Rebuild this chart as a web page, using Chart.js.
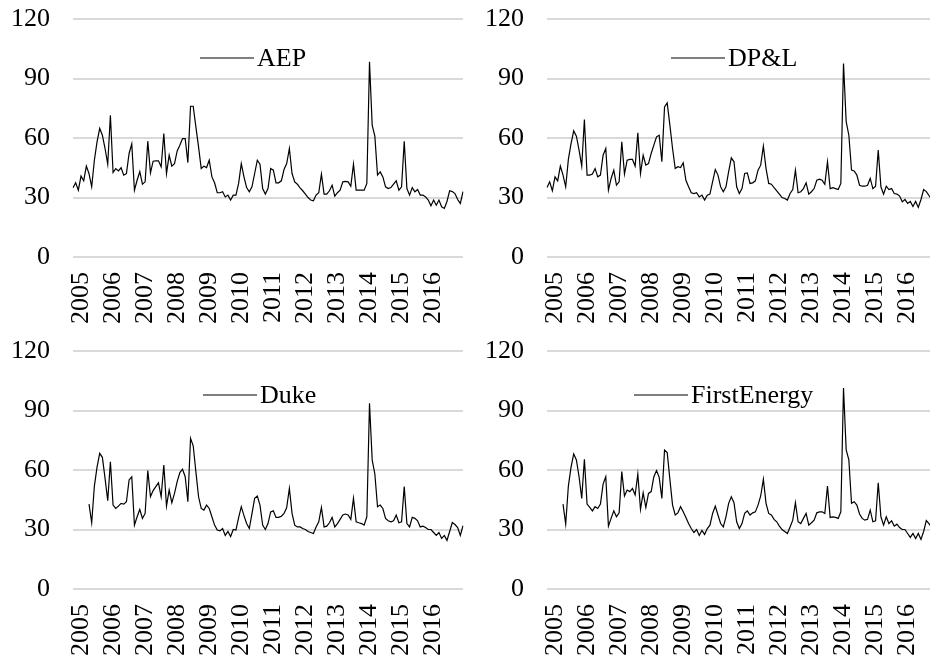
<!DOCTYPE html>
<html>
<head>
<meta charset="utf-8">
<script src="https://cdn.jsdelivr.net/npm/chart.js@4.4.1/dist/chart.umd.min.js"></script>
<style>
  body { margin: 0; width: 930px; height: 661px; overflow: hidden; background: #fff; position: relative; }
  canvas { position: absolute; }
</style>
</head>
<body>
<canvas id="aep" width="495" height="332" style="left:0;top:0"></canvas>
<canvas id="dpl" width="495" height="332" style="left:474px;top:0"></canvas>
<canvas id="duke" width="495" height="332" style="left:0;top:332px"></canvas>
<canvas id="fe" width="495" height="332" style="left:474px;top:332px"></canvas>
<script>
// monthly categories, Oct 2004 .. Dec 2016
const months = []
for (let y = 2004; y <= 2016; y++) {
  for (let m = 1; m <= 12; m++) {
    if (y === 2004 && m < 10) continue
    months.push(y + '-' + String(m).padStart(2, '0'))
  }
}
const yearLabels = ['2005', '2006', '2007', '2008', '2009', '2010', '2011', '2012', '2013', '2014', '2015', '2016']
const firstYearIndex = months.indexOf('2005-01')

const aep = [
  34.9, 37.4, 33.7, 40.8, 38.4, 45.8, 42, 35.4, 48.8, 58, 64.8, 61.4,
  54.7, 46.8, 71.5, 42.6, 44.6, 43.4, 45, 41.3, 42, 52.2, 57, 33.7,
  38.7, 43, 36.7, 37.9, 58.4, 42.4, 48.3, 48.5, 48.5, 45.5, 62.3, 42,
  51.3, 45.8, 47.1, 53.5, 56.4, 59.7, 59.7, 47.6, 76, 76, 65.6, 55.5,
  44.6, 45.8, 45.1, 48.8, 40.4, 37.4, 32.4, 32.4, 32.9, 30.3, 31.2, 28.7,
  31.2, 31.2, 37.1, 47.1, 40.4, 35, 32.9, 35.4, 42.1, 48.8, 46.8, 34.5,
  31.7, 34.5, 44.6, 43.8, 37.4, 37.4, 38.4, 44.1, 47.1, 54.7, 42.1, 37.9,
  36.7, 34.9, 33.4, 31.7, 30, 28.7, 28.3, 31.2, 32.4, 41.8, 31.7, 31.7,
  33.4, 36.2, 30.7, 32.4, 33.7, 37.9, 38.1, 37.9, 35.7, 46.8, 33.7, 33.7,
  33.7, 33.7, 37.1, 98.4, 66.5, 60.9, 41.3, 42.9, 40.4, 35.4, 34.5, 35,
  36.7, 38.4, 33.7, 35.4, 58.4, 34.5, 31.2, 35, 32.9, 34, 31.2, 31.2,
  30.3, 28.7, 25.8, 28.7, 26.1, 28.7, 25.3, 24.5, 28, 33.4, 33, 32,
  29, 27, 33
]

const dpl = [
  35, 37.9, 33.4, 40.4, 38.4, 45.8, 41.3, 35.4, 49.2, 57.2, 63.6, 60.9,
  53.9, 45.8, 69.3, 41.3, 41.3, 41.8, 44.6, 40.4, 41.3, 51.3, 54.7, 33.7,
  39.6, 43.8, 36.2, 37.9, 58.1, 41.8, 48.8, 49.2, 49.2, 45.8, 62.6, 42.1,
  51.3, 46.3, 47.1, 52.2, 56.4, 60.6, 61.4, 48, 75.7, 77.7, 66.5, 54.7,
  44.6, 45.5, 45.1, 47.5, 38.7, 35.4, 32.4, 32, 32.4, 30.3, 31.2, 28.7,
  31.2, 31.7, 38, 44.1, 41.3, 35.4, 32.9, 35.4, 43, 50, 48, 35.4,
  32, 34.5, 42.1, 42.4, 37.1, 37.4, 38.4, 43.8, 46.3, 55.9, 44.6, 37.1,
  36.7, 35, 33.4, 31.7, 30, 29.5, 28.7, 32, 34, 43.8, 32.4, 32.9,
  34.5, 37.4, 31.7, 32.9, 34.5, 38.7, 39.2, 38.7, 36.7, 48, 34.5, 35,
  34.5, 34, 37.1, 97.6, 68.2, 61.4, 43.8, 43.4, 41.3, 36.2, 35.7, 35.7,
  36.2, 39.6, 34.5, 35.7, 53.9, 35.4, 31.7, 35.7, 34, 34.5, 32, 31.7,
  30.7, 27.8, 29, 27, 28, 25.5, 28, 25, 29, 34, 33, 31,
  29, 27, 31
]

const duke = [
  null, null, null, null, null, null, 42.8, 33.4, 51.9, 61.4, 68.4, 66.4,
  55.8, 44.5, 64.2, 42.3, 40.6, 41.8, 43.2, 42.8, 44, 55, 56.6, 32.2,
  36.4, 40.1, 35.6, 38.1, 59.7, 46.5, 49.6, 51.6, 53.6, 46.5, 62.5, 41.8,
  49.9, 43.5, 48.2, 54.1, 58.7, 60.4, 56.6, 44, 76, 72.2, 59.2, 46.5,
  40.6, 39.8, 42.3, 40.6, 36.4, 32.2, 29.7, 29.3, 30.5, 27, 29, 26.5,
  30, 29.7, 36, 41.5, 37, 33, 30.5, 38, 45.7, 46.9, 42.3, 32.2,
  30, 33, 38.9, 39.4, 36.1, 36.1, 36.7, 38.1, 41.1, 50.7, 38.1, 32.2,
  31.3, 31.3, 30.5, 30, 29, 28.5, 28, 31.3, 33.9, 41.1, 31.3, 31.7,
  33.4, 36.1, 31.3, 33, 35.1, 37.3, 37.8, 37.3, 35.1, 45.7, 33.9, 33.4,
  33, 32.2, 36.4, 93.7, 65.1, 58, 41.5, 42.3, 40.6, 35.6, 34.4, 33.9,
  34.4, 37.3, 33.4, 33.9, 51.6, 33, 31.3, 36.1, 35.6, 34.4, 31.3, 31.7,
  31, 30, 30, 28.5, 27, 28.5, 25.5, 27, 24.5, 29, 33.5, 32.5,
  31, 27, 32
]

const firstEnergy = [
  null, null, null, null, null, null, 42.8, 32.7, 51.9, 61.4, 68.1, 65.1,
  56.6, 45.7, 65.4, 42.8, 41.1, 39.4, 41.5, 40.6, 42.8, 52.9, 56.6, 31.7,
  35.6, 39.4, 36.4, 38.4, 59.2, 46.9, 49.9, 49.1, 50.7, 47.4, 58, 40.1,
  48.5, 41.1, 48.2, 49.1, 56.6, 59.7, 56.3, 45.7, 70.1, 68.8, 55.3, 42.3,
  37.3, 38.4, 41.5, 38.9, 36.1, 33, 30.5, 28.5, 30, 27, 29.5, 27.5,
  30.5, 32.2, 38.1, 41.8, 37.3, 33, 31.3, 36.4, 43.2, 46.5, 43.5, 33.9,
  30.5, 33, 38.1, 39.4, 37.3, 38.4, 38.9, 42.3, 46.9, 55.3, 43.2, 38.1,
  37.3, 35.1, 33.9, 31.7, 30, 29, 28, 31.3, 34.7, 43.5, 33.9, 33,
  35.6, 38.1, 32.2, 33.4, 34.7, 38.4, 38.9, 38.9, 38.1, 51.9, 36.1, 36.4,
  36.1, 35.6, 38.9, 101.3, 70.1, 65.1, 43.2, 44, 42.3, 37.8, 35.6, 34.7,
  35.1, 39.8, 33.9, 34.4, 53.6, 36.4, 32.2, 36.4, 33, 34.4, 31.7, 32.7,
  31, 30, 30, 28, 26, 28, 25.5, 28, 25, 29, 34.5, 33,
  31, 29, 32
]

const fontFamily = '"Liberation Serif", "Times New Roman", serif'
Chart.defaults.font.family = fontFamily
Chart.defaults.font.size = 26
Chart.defaults.color = '#000'

// legend drawn inside the plot: a short line sample followed by the series name
const insideLegend = {
  id: 'insideLegend',
  afterDraw (chart, args, opts) {
    const { ctx, chartArea } = chart
    const ds = chart.data.datasets[0]
    const x = chartArea.left + opts.x
    const y = chartArea.top + opts.y
    ctx.save()
    ctx.strokeStyle = ds.borderColor
    ctx.lineWidth = ds.borderWidth
    ctx.beginPath()
    ctx.moveTo(x, y)
    ctx.lineTo(x + 54, y)
    ctx.stroke()
    ctx.fillStyle = '#000'
    ctx.font = '26px ' + fontFamily
    ctx.textBaseline = 'middle'
    ctx.fillText(ds.label, x + 57, y + 1)
    ctx.restore()
  }
}

function createPanel (id, name, values, legendX, legendY) {
  const canvas = document.getElementById(id)
  // eslint-disable-next-line no-new, no-undef
  new Chart(canvas, {
    type: 'line',
    data: {
      labels: months,
      datasets: [{
        label: name,
        data: values,
        borderColor: '#000',
        borderWidth: 1.2,
        pointRadius: 0,
        tension: 0,
        spanGaps: false
      }]
    },
    options: {
      responsive: false,
      animation: false,
      devicePixelRatio: 1,
      layout: { padding: { top: 19, right: 32, bottom: 0, left: 0 } },
      scales: {
        x: {
          offset: false,
          grid: { drawOnChartArea: false, tickLength: 15, tickColor: 'rgba(0,0,0,0)' },
          border: { display: false },
          ticks: {
            autoSkip: false,
            minRotation: 90,
            maxRotation: 90,
            padding: 0,
            callback: (value) => {
              const k = value - firstYearIndex
              return k >= 0 && k % 12 === 0 ? yearLabels[k / 12] : ''
            }
          },
          afterFit: (scale) => { scale.height = 75 }
        },
        y: {
          min: 0,
          max: 120,
          grid: { color: '#d9d9d9', lineWidth: 2, tickLength: 23, tickColor: 'rgba(0,0,0,0)' },
          border: { display: false },
          ticks: { stepSize: 30, padding: 0 },
          afterFit: (scale) => { scale.width = 73 }
        }
      },
      plugins: {
        tooltip: { enabled: false },
        legend: { display: false },
        insideLegend: { x: legendX, y: legendY }
      }
    },
    plugins: [insideLegend]
  })
}

createPanel('aep', 'AEP', aep, 127, 39)
createPanel('dpl', 'DP&L', dpl, 124, 39)
createPanel('duke', 'Duke', duke, 130, 44)
createPanel('fe', 'FirstEnergy', firstEnergy, 87, 44)
</script>
</body>
</html>
